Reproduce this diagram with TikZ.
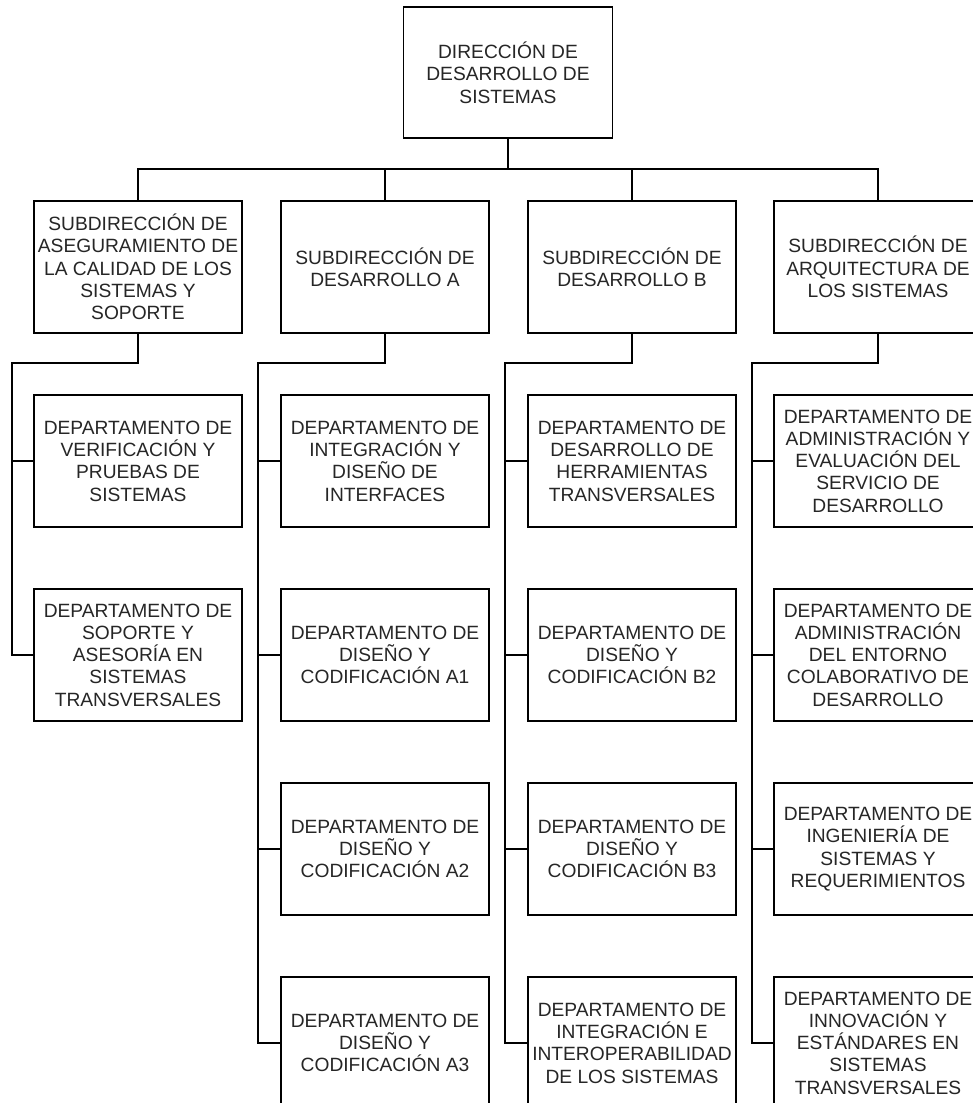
\documentclass[tikz,border=0pt]{standalone}
\usepackage{fontspec}
\setmainfont{Liberation Sans}
\begin{document}
\begin{tikzpicture}[x=1pt,y=-1pt,
  box/.style={draw=black,line width=1.8pt,fill=white,minimum width=208pt,minimum height=132pt,
    inner sep=0pt,align=center,text=black!85,font=\fontsize{19.2}{22.3}\selectfont},
  link/.style={draw=black,line width=1.8pt,line join=miter}]
\useasboundingbox (0,0) rectangle (973,1103);
% top
\node[box,minimum width=209pt,minimum height=131pt] (top) at (508,72.5) {DIRECCIÓN DE\\DESARROLLO DE\\SISTEMAS};
% level 2
\node[box] (s1) at (138,267) {SUBDIRECCIÓN DE\\ASEGURAMIENTO DE\\LA CALIDAD DE LOS\\SISTEMAS Y\\SOPORTE};
\node[box] (s2) at (385,267) {SUBDIRECCIÓN DE\\DESARROLLO A};
\node[box] (s3) at (632,267) {SUBDIRECCIÓN DE\\DESARROLLO B};
\node[box] (s4) at (878,267) {SUBDIRECCIÓN DE\\ARQUITECTURA DE\\LOS SISTEMAS};
% column 1
\node[box] (c11) at (138,461) {DEPARTAMENTO DE\\VERIFICACIÓN Y\\PRUEBAS DE\\SISTEMAS};
\node[box] (c12) at (138,655) {DEPARTAMENTO DE\\SOPORTE Y\\ASESORÍA EN\\SISTEMAS\\TRANSVERSALES};
% column 2
\node[box] (c21) at (385,461) {DEPARTAMENTO DE\\INTEGRACIÓN Y\\DISEÑO DE\\INTERFACES};
\node[box] (c22) at (385,655) {DEPARTAMENTO DE\\DISEÑO Y\\CODIFICACIÓN A1};
\node[box] (c23) at (385,849) {DEPARTAMENTO DE\\DISEÑO Y\\CODIFICACIÓN A2};
\node[box] (c24) at (385,1043) {DEPARTAMENTO DE\\DISEÑO Y\\CODIFICACIÓN A3};
% column 3
\node[box] (c31) at (632,461) {DEPARTAMENTO DE\\DESARROLLO DE\\HERRAMIENTAS\\TRANSVERSALES};
\node[box] (c32) at (632,655) {DEPARTAMENTO DE\\DISEÑO Y\\CODIFICACIÓN B2};
\node[box] (c33) at (632,849) {DEPARTAMENTO DE\\DISEÑO Y\\CODIFICACIÓN B3};
\node[box] (c34) at (632,1043) {DEPARTAMENTO DE\\INTEGRACIÓN E\\INTEROPERABILIDAD\\DE LOS SISTEMAS};
% column 4
\node[box] (c41) at (878,461) {DEPARTAMENTO DE\\ADMINISTRACIÓN Y\\EVALUACIÓN DEL\\SERVICIO DE\\DESARROLLO};
\node[box] (c42) at (878,655) {DEPARTAMENTO DE\\ADMINISTRACIÓN\\DEL ENTORNO\\COLABORATIVO DE\\DESARROLLO};
\node[box] (c43) at (878,849) {DEPARTAMENTO DE\\INGENIERÍA DE\\SISTEMAS Y\\REQUERIMIENTOS};
\node[box] (c44) at (878,1043) {DEPARTAMENTO DE\\INNOVACIÓN Y\\ESTÁNDARES EN\\SISTEMAS\\TRANSVERSALES};
% connectors top
\coordinate (bus) at (508,169);
\draw[link] (top.south) -- (bus);
\draw[link] (s1.north) |- (bus) -| (s4.north);
\draw[link] (s2.north) -- (s2.north |- bus);
\draw[link] (s3.north) -- (s3.north |- bus);
% column buses
\coordinate (b1) at (12,363);
\coordinate (b2) at (258,363);
\coordinate (b3) at (505,363);
\coordinate (b4) at (752,363);
\draw[link] (s1.south) |- (b1) |- (c12.west);
\draw[link] (c11.west) -- (c11.west -| b1);
\draw[link] (s2.south) |- (b2) |- (c24.west);
\draw[link] (c21.west) -- (c21.west -| b2);
\draw[link] (c22.west) -- (c22.west -| b2);
\draw[link] (c23.west) -- (c23.west -| b2);
\draw[link] (s3.south) |- (b3) |- (c34.west);
\draw[link] (c31.west) -- (c31.west -| b3);
\draw[link] (c32.west) -- (c32.west -| b3);
\draw[link] (c33.west) -- (c33.west -| b3);
\draw[link] (s4.south) |- (b4) |- (c44.west);
\draw[link] (c41.west) -- (c41.west -| b4);
\draw[link] (c42.west) -- (c42.west -| b4);
\draw[link] (c43.west) -- (c43.west -| b4);
\end{tikzpicture}
\end{document}
